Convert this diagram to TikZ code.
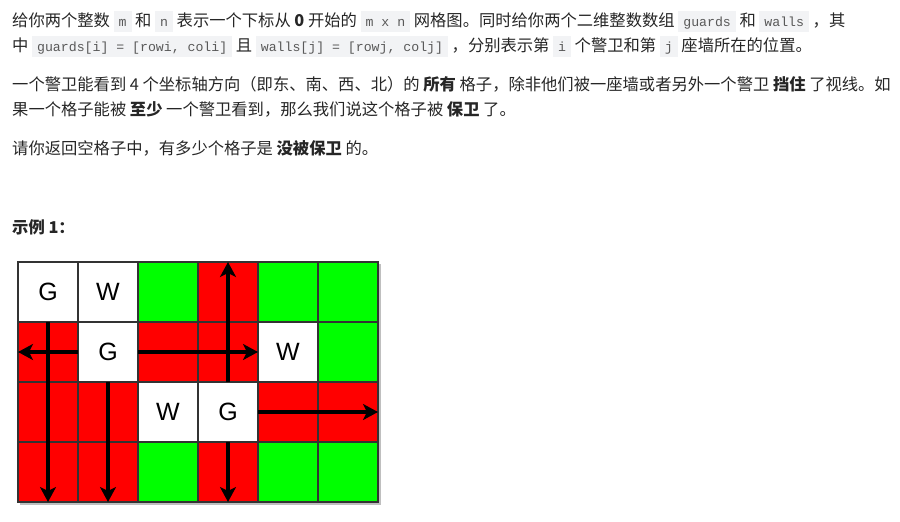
\documentclass[tikz,border=0pt]{standalone}
\usepackage{fontspec}
\setmainfont{Noto Sans CJK SC}
\newfontfamily\codefont{Liberation Mono}
\newfontfamily\cellfont{Liberation Sans}
\usetikzlibrary{arrows.meta,positioning}
\definecolor{txt}{HTML}{262626}
\definecolor{codebg}{HTML}{F2F3F5}
\definecolor{codefg}{HTML}{595959}
\definecolor{cellgreen}{HTML}{00FF00}
\definecolor{cellred}{HTML}{FF0000}
\definecolor{gridline}{HTML}{333333}
% inline code as in the problem text
\newcommand{\cd}[1]{{\setlength{\fboxsep}{2pt}\colorbox{codebg}{\hspace{3pt}\codefont\fontsize{13.2}{13}\selectfont\color{codefg}\rule[-4pt]{0pt}{17pt}#1\hspace{3pt}}}}

\begin{document}
\begin{tikzpicture}[x=1pt,y=-1pt,font=\fontsize{16.3}{25}\selectfont,text=txt,
  line/.style={anchor=base west,inner sep=0pt},
  cell/.style={draw=gridline,line width=1.6pt,minimum size=60pt,inner sep=0pt,outer sep=0pt,
    text=black,font=\cellfont\fontsize{25}{25}\selectfont},
  sight/.style={line width=4pt,-{Stealth[length=15pt,width=16pt,inset=4pt]}}]
  \useasboundingbox (0,0) rectangle (900,522);
  % problem statement, one node per printed line
  \node[line] (l1) at (12,26) {给你两个整数 \cd{m} 和 \cd{n} 表示一个下标从 \textbf{0} 开始的 \cd{m x n} 网格图。同时给你两个二维整数数组 \cd{guards} 和 \cd{walls} ，其};
  \node[line] (l2) at (12,51) {中 \cd{guards[i] = [rowi, coli]} 且 \cd{walls[j] = [rowj, colj]} ，分别表示第 \cd{i} 个警卫和第 \cd{j} 座墙所在的位置。};
  \node[line] (l3) at (12,90) {一个警卫能看到 4 个坐标轴方向（即东、南、西、北）的 \textbf{所有} 格子，除非他们被一座墙或者另外一个警卫 \textbf{挡住} 了视线。如};
  \node[line] (l4) at (12,115) {果一个格子能被 \textbf{至少} 一个警卫看到，那么我们说这个格子被 \textbf{保卫} 了。};
  \node[line] (l5) at (12,154) {请你返回空格子中，有多少个格子是 \textbf{没被保卫} 的。};
  \node[line] (ex) at (12,233) {\textbf{示例 1：}};
  % the 4 x 6 grid
  \fill[black!25] (20,264) rectangle (381,505);
  \foreach \r/\c/\col/\lab in {0/0/white/G,0/1/white/W,0/2/cellgreen/{},0/3/cellred/{},0/4/cellgreen/{},0/5/cellgreen/{},
      1/0/cellred/{},1/1/white/G,1/2/cellred/{},1/3/cellred/{},1/4/white/W,1/5/cellgreen/{},
      2/0/cellred/{},2/1/cellred/{},2/2/white/W,2/3/white/G,2/4/cellred/{},2/5/cellred/{},
      3/0/cellred/{},3/1/cellred/{},3/2/cellgreen/{},3/3/cellred/{},3/4/cellgreen/{},3/5/cellgreen/{}}
    \node[cell,fill=\col] (c\r\c) at (48+60*\c,292+60*\r) {\lab};
  % lines of sight
  \draw[sight] (c00.south) -- (c30.south);
  \draw[sight] (c11.west) -- (c10.west);
  \draw[sight] (c11.east) -- (c14.west);
  \draw[sight] (c11.south) -- (c31.south);
  \draw[sight] (c23.north) -- (c03.north);
  \draw[sight] (c23.south) -- (c33.south);
  \draw[sight] (c23.east) -- (c25.east);
\end{tikzpicture}
\end{document}
